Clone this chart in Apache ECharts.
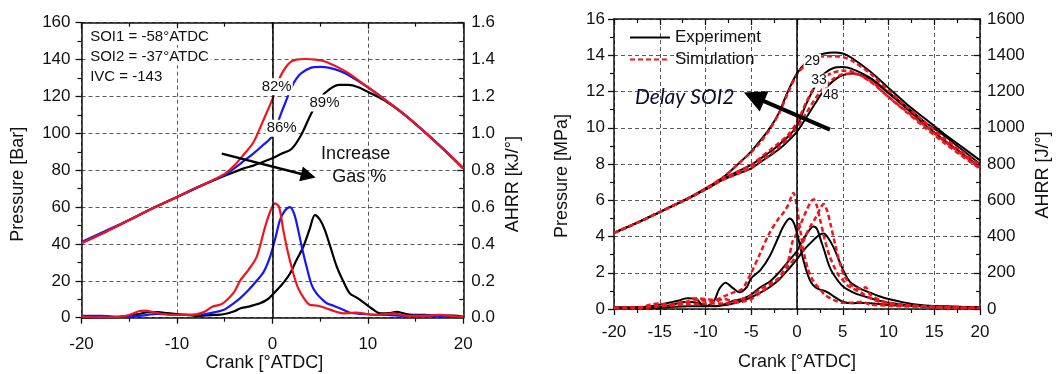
<!DOCTYPE html>
<html>
<head>
<meta charset="utf-8">
<script src="https://cdn.jsdelivr.net/npm/echarts@6/dist/echarts.min.js"></script>
<style>
html,body{margin:0;padding:0;background:#fff;}
#chart{width:1056px;height:374px;}
</style>
</head>
<body>
<div id="chart"></div>
<script>
// ---------------- LEFT PANEL DATA ----------------
// Pressure [Bar] vs crank [°ATDC]
const lpRedX = [-20,-17.5,-15,-12.5,-10,-7.5,-5,-4,-3,-2,-1,0,0.6,1,1.5,2,2.5,3.5,4.5,5.5,7,8,10,12,14,16,18,20];
const lpRedY = [40.5,46.5,53,59.5,65.5,71.5,78,82.5,88.5,95,106.5,118.5,128,132.5,136.5,139,140,140.3,140,139,135.5,132.5,125,117.5,109.5,100.5,91,81];
const lpBlueX = [-20,-17.5,-15,-12.5,-10,-7.5,-5,-4,-3,-2,-1,0,0.5,1,1.5,2,2.5,3,4,5,6,7,8,10,12,14,16,18,20];
const lpBlueY = [41,47,53,59.5,65.5,71.5,77.5,81,85,89,93.5,98.5,105,112,118.5,125,129.5,132.5,135.5,136,135.5,134,131.5,125,117.5,109.5,100.5,91,81];
const lpBlackX = [-20,-17.5,-15,-12.5,-10,-7.5,-5,-4,-3,-2,-1,0,1,2,3,4,5,6,7,8,9,10,12,14,16,18,20];
const lpBlackY = [40.5,46.5,53,59.5,65.5,71.5,77,79,81,82.5,84.5,86.5,89,91.5,99,110,119,124,126.3,126.3,125,122.5,117,109.5,100.5,91,81];
// AHRR [kJ/°]
const laRedX = [-20,-18,-16,-15,-14,-13.3,-12.5,-11.5,-10,-9,-8,-7,-6.3,-5.5,-5,-4,-3.4,-2.5,-1.65,-0.78,-0.2,0.27,0.7,1.14,1.6,2.19,2.7,3.24,3.9,4.8,5.7,6.5,7.4,8,8.8,9.85,11,12.67,14.1,15.5,17.6,19,20];
const laRedY = [0.005,0.002,0.005,0.015,0.035,0.038,0.03,0.02,0.015,0.015,0.018,0.035,0.06,0.07,0.085,0.14,0.2,0.26,0.33,0.49,0.58,0.62,0.6,0.475,0.36,0.24,0.16,0.11,0.07,0.065,0.05,0.035,0.024,0.025,0.027,0.02,0.015,0.024,0.01,0.01,0.015,0.008,0.005];
const laBlueX = [-20,-18,-16,-14,-12,-10,-8,-7,-6,-5,-4.4,-3.4,-2.5,-1.65,-0.9,-0.25,0.3,0.8,1.3,1.85,2.3,2.7,3.1,3.58,4.1,4.64,5.2,5.7,6.4,7.1,8,8.5,9.5,10.5,12,14,16,18,20];
const laBlueY = [0.01,0.01,0.005,0.01,0.02,0.015,0.015,0.02,0.03,0.045,0.065,0.105,0.15,0.2,0.25,0.33,0.43,0.53,0.58,0.6,0.56,0.475,0.38,0.277,0.18,0.13,0.1,0.078,0.065,0.05,0.03,0.024,0.02,0.016,0.015,0.01,0.012,0.008,0.005];
const laBlackX = [-20,-16,-14,-13,-12,-11,-10,-9,-8,-7,-6,-5,-4,-3.4,-2.5,-1.3,-0.5,0.1,1,1.85,2.5,3.24,3.9,4.46,5,5.5,6.1,6.74,7.4,8.1,8.8,9.5,10.4,11.3,12.2,13,14,14.8,16,17.6,19,20];
const laBlackY = [0,0.005,0.02,0.03,0.03,0.025,0.02,0.015,0.01,0.012,0.015,0.02,0.035,0.05,0.06,0.078,0.1,0.13,0.18,0.24,0.31,0.385,0.48,0.557,0.53,0.475,0.38,0.277,0.2,0.132,0.11,0.085,0.05,0.024,0.025,0.032,0.02,0.016,0.015,0.01,0.012,0.005];
// annotations (data coordinates)
const lpNoteText = ['SOI1 = -58°ATDC','SOI2 = -37°ATDC','IVC = -143'];
const lpNoteX = [-19.3,-19.3,-19.3];
const lpNoteY = [152.4,141.6,130.7];
const lpPctText = ['82%','86%','89%'];
const lpPctX = [0.45,0.97,5.46];
const lpPctY = [125.3,102.7,116.5];
const lpGasText = ['Increase','Gas %'];
const lpGasX = [8.72,9.1];
const lpGasY = [89,76.2];
const lpArrowFrom = [-5.3,89];
const lpArrowTo = [3.76,77];

// ---------------- RIGHT PANEL DATA ----------------
const rpCrank = [-20,-17.5,-15,-12.5,-10,-8,-6,-5,-4,-3,-2,-1,0,1,2,3,4,5,6,8,10,12,14,16,18,20];
const rpExp29 = [4.2,4.75,5.35,5.95,6.65,7.3,8.2,8.7,9.3,9.95,10.8,12.0,13.0,13.6,13.95,14.1,14.15,14.1,13.85,13.1,12.2,11.3,10.5,9.7,8.95,8.2];
const rpExp33 = [4.2,4.75,5.35,5.95,6.6,7.2,7.7,7.95,8.3,8.65,9.05,9.5,10.1,11.3,12.3,13.0,13.3,13.35,13.25,12.75,11.95,11.15,10.3,9.6,8.8,8.0];
const rpExp48 = [4.2,4.75,5.35,5.95,6.6,7.15,7.55,7.76,8.1,8.45,8.8,9.25,9.78,10.55,11.35,12.1,12.6,12.9,13.0,12.7,11.9,11.05,10.15,9.35,8.6,7.85];
const rpSim29 = [4.2,4.75,5.35,5.95,6.65,7.3,8.2,8.65,9.2,9.9,10.75,11.9,12.95,13.5,13.85,13.95,13.95,13.9,13.7,13.0,12.05,11.15,10.3,9.45,8.7,7.95];
const rpSim33 = [4.2,4.75,5.35,5.95,6.6,7.2,7.7,7.95,8.35,8.75,9.15,9.6,10.3,11.4,12.3,12.8,13.05,13.15,13.1,12.55,11.7,10.9,10.1,9.3,8.55,7.8];
const rpSim48 = [4.2,4.75,5.35,5.95,6.6,7.15,7.55,7.8,8.15,8.5,8.9,9.4,10.0,10.8,11.6,12.25,12.7,12.95,13.0,12.6,11.7,10.85,10.0,9.2,8.45,7.75];
// AHRR [J/°]
const raExpAX = [-20,-18,-16,-14,-13,-12,-11,-10.5,-10,-9.5,-9,-8.5,-7.8,-7,-6.3,-5.5,-5,-4,-3,-2,-1.5,-0.8,-0.4,0,0.5,1,1.5,2,2.5,3,3.5,4,5,6,7,8,10,12,15,20];
const raExpAY = [10,10,15,35,45,60,55,30,15,25,50,110,145,115,92,120,170,215,290,400,455,500,480,420,310,215,150,120,107,100,88,70,40,32,35,32,22,18,12,8];
const raExpBX = [-20,-16,-14,-12,-11,-10,-9,-8,-7,-6,-5,-4,-3,-2,-1,0,0.5,1,1.5,1.8,2.2,2.6,3,3.5,4,5,6,7,8,9,10,12,15,20];
const raExpBY = [5,10,20,40,35,20,15,25,45,55,80,120,150,200,260,320,370,410,445,455,440,380,320,240,190,125,95,75,60,45,35,22,15,8];
const raExpCX = [-20,-16,-14,-12,-10,-8,-7,-6,-5,-4,-3,-2,-1,0,0.5,1,1.5,2,2.5,2.9,3.3,4,4.5,5,5.5,6,7,8,9,10,11.5,13,15,20];
const raExpCY = [5,5,10,15,15,20,30,45,65,90,120,160,215,275,310,340,365,390,410,417,400,340,280,220,170,140,110,90,70,55,38,25,17,10];
const raSimAX = [-20,-17,-16,-15,-14,-13,-12,-11,-10,-9,-8,-7,-6,-5,-4,-3,-2,-1.5,-1,-0.4,0,0.4,0.8,1.2,1.6,2,2.5,3,4,5,6,7,8,10,15,20];
const raSimAY = [5,10,25,30,20,35,40,60,55,50,70,90,110,200,310,420,500,530,570,640,560,420,300,220,170,140,110,80,50,35,35,40,25,18,10,5];
const raSimBX = [-20,-16,-14,-12,-11,-10,-9,-8,-7,-6,-5,-4,-3,-2,-1,-0.5,0,0.5,1,1.5,1.8,2.1,2.5,3,3.5,4,4.5,5,5.5,6,7,8,9,10,12,15,20];
const raSimBY = [5,10,25,35,50,45,40,55,45,55,75,110,140,170,260,370,420,480,540,590,605,580,500,390,300,240,190,160,130,115,90,60,40,30,20,12,6];
const raSimCX = [-20,-15,-12,-10,-8,-6,-5,-4,-3,-2,-1,0,0.5,1,1.5,2,2.5,2.9,3.3,3.7,4.2,4.7,5.2,6,7,7.5,8,9,10,12,15,20];
const raSimCY = [5,15,25,30,30,40,55,90,130,170,230,300,350,410,460,500,550,580,540,460,350,250,180,130,110,120,80,50,35,22,12,6];
// annotations (data coordinates)
const rpCaseText = ['29','33','48'];
const rpCaseX = [1.67,2.4,3.68];
const rpCaseY = [13.7,12.6,11.8];
const rpDelayText = ['Delay SOI2'];
const rpDelayX = [-17.7];
const rpDelayY = [11.68];
const rpArrowFrom = [3.6,9.9];
const rpArrowTo = [-4.7,11.7];

// ---------------- BUILD ----------------
const zip = (xs, ys) => xs.map((x, i) => [x, ys[i]]);
const FONT = "'Liberation Sans', Arial, sans-serif";
const AX = '#111';
const gridDash = {color: '#5a5a5a', width: 1, type: [4, 3]};
const RED = '#f2141b', BLUE = '#1515ff', BLACK = '#000';

function xAx(grid, interval, bottom, opts) {
  const o = {
    gridIndex: grid, type: 'value', min: -20, max: 20, interval: interval,
    position: bottom ? 'bottom' : 'top',
    axisLine: {show: true, onZero: false, lineStyle: {color: AX, width: 1.5}},
    axisTick: {show: true, inside: !bottom, length: 6, lineStyle: {color: AX, width: 1.3}},
    minorTick: {show: true, splitNumber: 2, length: 4, lineStyle: {color: AX, width: 1.2}},
    axisLabel: {show: bottom, fontSize: 17, color: AX, fontFamily: FONT, margin: opts.margin || 14},
    splitLine: {show: bottom, lineStyle: gridDash}
  };
  if (bottom) {
    o.name = 'Crank [°ATDC]';
    o.nameLocation = 'middle';
    o.nameGap = opts.gap;
    o.nameMoveOverlap = false;
    o.nameTextStyle = {fontSize: 18, color: AX, fontFamily: FONT, padding: opts.pad || 0};
  }
  return o;
}
function yAx(grid, pos, max, interval, name, opts) {
  const left = pos === 'left';
  return {
    gridIndex: grid, type: 'value', min: 0, max: max, interval: interval, position: pos,
    axisLine: {show: true, onZero: false, lineStyle: {color: AX, width: 1.5}},
    axisTick: {show: true, inside: !left, length: 6, lineStyle: {color: AX, width: 1.3}},
    minorTick: {show: true, splitNumber: 2, length: 4, lineStyle: {color: AX, width: 1.2}},
    axisLabel: {fontSize: 17, color: AX, fontFamily: FONT, margin: opts.margin,
      formatter: opts.fmt || (v => String(Math.round(v)))},
    splitLine: {show: left, lineStyle: gridDash},
    name: name, nameLocation: 'middle', nameGap: opts.gap, nameRotate: 90, nameMoveOverlap: false,
    nameTextStyle: {fontSize: 18, color: AX, fontFamily: FONT, padding: opts.pad || 0}
  };
}

function lineS(name, data, xi, yi, color, width, dashed) {
  return {
    name: name, type: 'line', xAxisIndex: xi, yAxisIndex: yi, data: data,
    smooth: 0.3, symbol: 'none', showSymbol: false,
    lineStyle: {color: color, width: width, type: dashed ? [5, 3] : 'solid'},
    itemStyle: {color: color}, z: dashed ? 4 : 3
  };
}
function noteS(texts, xs, ys, xi, yi, style) {
  return {
    type: 'scatter', xAxisIndex: xi, yAxisIndex: yi, symbolSize: 1,
    itemStyle: {color: 'rgba(0,0,0,0)', opacity: 1}, z: 10, silent: true,
    data: texts.map((t, i) => ({name: t, value: [xs[i], ys[i]]})),
    label: Object.assign({show: true, position: 'inside', formatter: p => p.name,
      verticalAlign: 'middle', fontFamily: FONT, color: '#111', opacity: 1}, style)
  };
}
function arrowS(from, to, xi, yi, width, size) {
  return {
    type: 'line', xAxisIndex: xi, yAxisIndex: yi, data: [], z: 9, silent: true,
    markLine: {silent: true, animation: false, symbol: ['none', 'triangle'], symbolSize: size,
      label: {show: false}, lineStyle: {color: '#000', width: width, type: 'solid'},
      emphasis: {disabled: true},
      data: [[{coord: from}, {coord: to}]]}
  };
}
function zeroLine(xi, yi) {
  return {
    type: 'line', xAxisIndex: xi, yAxisIndex: yi, data: [], z: 2, silent: true,
    markLine: {silent: true, animation: false, symbol: 'none', label: {show: false},
      lineStyle: {color: '#000', width: 1.5, type: 'solid'}, emphasis: {disabled: true},
      data: [{xAxis: 0}]}
  };
}

const option = {
  animation: false,
  backgroundColor: '#fff',
  textStyle: {fontFamily: FONT},
  grid: [
    {left: 81.5, top: 22.7, width: 381.8, height: 295, containLabel: false, outerBoundsMode: 'none'},
    {left: 614, top: 19, width: 366, height: 290, containLabel: false, outerBoundsMode: 'none'}
  ],
  xAxis: [
    xAx(0, 10, true, {gap: 36, margin: 18, pad: [0, 16, 0, 0]}),
    xAx(0, 10, false, {}),
    xAx(1, 5, true, {gap: 44, margin: 15}),
    xAx(1, 5, false, {})
  ],
  yAxis: [
    yAx(0, 'left', 160, 20, 'Pressure [Bar]', {gap: 54, margin: 11, pad: [0, 28, 0, 0]}),
    yAx(0, 'right', 1.6, 0.2, 'AHRR [kJ/°]', {gap: 41, margin: 8, pad: [0, 28, 0, 0], fmt: v => v.toFixed(1)}),
    yAx(1, 'left', 16, 2, 'Pressure [MPa]', {gap: 43, margin: 9, pad: [0, 24, 0, 0]}),
    yAx(1, 'right', 1600, 200, 'AHRR [J/°]', {gap: 54, margin: 7, pad: [0, 22, 0, 0]})
  ],
  legend: {
    show: true, left: 624, top: 24, orient: 'vertical', itemWidth: 40, itemHeight: 16, itemGap: 5,
    data: ['Experiment', 'Simulation'],
    itemStyle: {color: 'rgba(0,0,0,0)', borderWidth: 0, opacity: 0},
    textStyle: {fontSize: 17, color: '#111', fontFamily: FONT}
  },
  series: [
    zeroLine(0, 0),
    zeroLine(2, 2),
    // left panel
    lineS('lb', zip(lpBlackX, lpBlackY), 0, 0, BLACK, 2.2),
    lineS('lbl', zip(lpBlueX, lpBlueY), 0, 0, BLUE, 2.2),
    lineS('lr', zip(lpRedX, lpRedY), 0, 0, RED, 2.2),
    lineS('ab', zip(laBlackX, laBlackY), 0, 1, BLACK, 2.2),
    lineS('abl', zip(laBlueX, laBlueY), 0, 1, BLUE, 2.2),
    lineS('ar', zip(laRedX, laRedY), 0, 1, RED, 2.2),
    noteS(lpNoteText, lpNoteX, lpNoteY, 0, 0, {fontSize: 15, align: 'left', backgroundColor: '#fff', padding: [1, 2]}),
    noteS(lpPctText, lpPctX, lpPctY, 0, 0, {fontSize: 15, align: 'center', backgroundColor: '#fff', padding: [1, 1]}),
    noteS(lpGasText, lpGasX, lpGasY, 0, 0, {fontSize: 18, align: 'center'}),
    arrowS(lpArrowFrom, lpArrowTo, 0, 0, 2.5, 15),
    // right panel
    lineS('Experiment', zip(rpCrank, rpExp29), 2, 2, BLACK, 2),
    lineS('Experiment', zip(rpCrank, rpExp33), 2, 2, BLACK, 2),
    lineS('Experiment', zip(rpCrank, rpExp48), 2, 2, BLACK, 2),
    lineS('Experiment', zip(raExpAX, raExpAY), 2, 3, BLACK, 2),
    lineS('Experiment', zip(raExpBX, raExpBY), 2, 3, BLACK, 2),
    lineS('Experiment', zip(raExpCX, raExpCY), 2, 3, BLACK, 2),
    lineS('Simulation', zip(rpCrank, rpSim29), 2, 2, RED, 2.5, true),
    lineS('Simulation', zip(rpCrank, rpSim33), 2, 2, RED, 2.5, true),
    lineS('Simulation', zip(rpCrank, rpSim48), 2, 2, RED, 2.5, true),
    lineS('Simulation', zip(raSimAX, raSimAY), 2, 3, RED, 2.5, true),
    lineS('Simulation', zip(raSimBX, raSimBY), 2, 3, RED, 2.5, true),
    lineS('Simulation', zip(raSimCX, raSimCY), 2, 3, RED, 2.5, true),
    noteS(rpCaseText, rpCaseX, rpCaseY, 2, 2, {fontSize: 14, align: 'center', backgroundColor: '#fff', padding: [0, 1]}),
    noteS(rpDelayText, rpDelayX, rpDelayY, 2, 2, {fontSize: 21, align: 'left', fontStyle: 'italic', fontFamily: 'Lato, "Open Sans", sans-serif', color: '#0c0c30'}),
    arrowS(rpArrowFrom, rpArrowTo, 2, 2, 4, 22)
  ]
};

const chart = echarts.init(document.getElementById('chart'), null, {renderer: 'canvas'});
chart.setOption(option);
</script>
</body>
</html>
